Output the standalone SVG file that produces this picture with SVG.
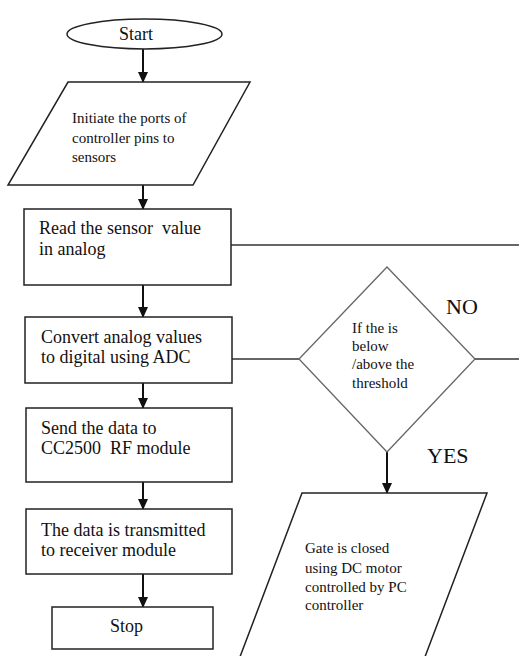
<svg xmlns="http://www.w3.org/2000/svg" width="519" height="656" viewBox="0 0 519 656">
<style>
.box{fill:#fff;stroke:#222;stroke-width:1.5}
.dia{fill:#fff;stroke:#666;stroke-width:1.3}
.t{font-family:"Liberation Serif","Times New Roman",serif;font-size:18px;fill:#111;white-space:pre}
.s{font-family:"Liberation Serif","Times New Roman",serif;font-size:15px;fill:#111;white-space:pre}
.lbl{font-family:"Liberation Serif","Times New Roman",serif;font-size:22px;fill:#111}
.ar{stroke:#111;stroke-width:2;fill:none}
.ln{stroke:#333;stroke-width:1.3;fill:none}
</style>
<defs>
<marker id="ah" markerUnits="userSpaceOnUse" markerWidth="12" markerHeight="14" refX="10" refY="5" orient="auto">
<path d="M0,0 L11,5 L0,10 Z" fill="#111"/>
</marker>
</defs>
<rect width="519" height="656" fill="#fff"/>
<g id="connectors">
<line class="ar" x1="143" y1="49" x2="143" y2="82" marker-end="url(#ah)"/>
<line class="ar" x1="143" y1="185" x2="143" y2="209" marker-end="url(#ah)"/>
<line class="ar" x1="143" y1="285" x2="143" y2="317" marker-end="url(#ah)"/>
<line class="ar" x1="143" y1="383" x2="143" y2="408" marker-end="url(#ah)"/>
<line class="ar" x1="143" y1="482" x2="143" y2="509" marker-end="url(#ah)"/>
<line class="ar" x1="143" y1="574" x2="143" y2="607" marker-end="url(#ah)"/>
<line class="ar" x1="387" y1="452" x2="387" y2="493" marker-end="url(#ah)"/>
<line class="ln" x1="231" y1="245" x2="519" y2="245"/>
<line class="ln" x1="232" y1="359" x2="299" y2="359"/>
<line class="ln" x1="475" y1="359" x2="519" y2="359"/>
</g>
<g id="start">
<ellipse class="box" cx="144.5" cy="34" rx="77.5" ry="15" stroke="#555" stroke-width="1.2"/>
<text class="t" x="119" y="40">Start</text>
</g>
<g id="init">
<polygon class="box" points="68,82 250,82 193,185 8,185"/>
<text class="s" x="72" y="123">Initiate the ports of</text>
<text class="s" x="72" y="143">controller pins to</text>
<text class="s" x="72" y="162">sensors</text>
</g>
<g id="read">
<rect class="box" x="24" y="209" width="207" height="76"/>
<text class="t" x="39" y="234">Read the sensor  value</text>
<text class="t" x="39" y="255">in analog</text>
</g>
<g id="convert">
<rect class="box" x="25" y="317" width="207" height="66"/>
<text class="t" x="41" y="343">Convert analog values</text>
<text class="t" x="41" y="363">to digital using ADC</text>
</g>
<g id="send">
<rect class="box" x="26" y="408" width="206" height="74"/>
<text class="t" x="41" y="434">Send the data to</text>
<text class="t" x="41" y="454">CC2500  RF module</text>
</g>
<g id="transmit">
<rect class="box" x="26" y="509" width="206" height="65"/>
<text class="t" x="41" y="536">The data is transmitted</text>
<text class="t" x="41" y="556">to receiver module</text>
</g>
<g id="stop">
<rect class="box" x="52" y="607" width="161" height="42"/>
<text class="t" x="110" y="632">Stop</text>
</g>
<g id="decision">
<polygon class="dia" points="387,267 475,359 387,452 299,359"/>
<text class="s" x="352" y="333">If the is</text>
<text class="s" x="352" y="351">below</text>
<text class="s" x="352" y="369">/above the</text>
<text class="s" x="352" y="388">threshold</text>
</g>
<g id="no-label"><text class="lbl" x="446" y="314">NO</text></g>
<g id="yes-label"><text class="lbl" x="427" y="463">YES</text></g>
<g id="gate">
<polygon class="box" points="302,493 487,493 420,670 235,670"/>
<text class="s" x="305" y="553">Gate is closed</text>
<text class="s" x="305" y="573">using DC motor</text>
<text class="s" x="305" y="592">controlled by PC</text>
<text class="s" x="305" y="610">controller</text>
</g>
</svg>
